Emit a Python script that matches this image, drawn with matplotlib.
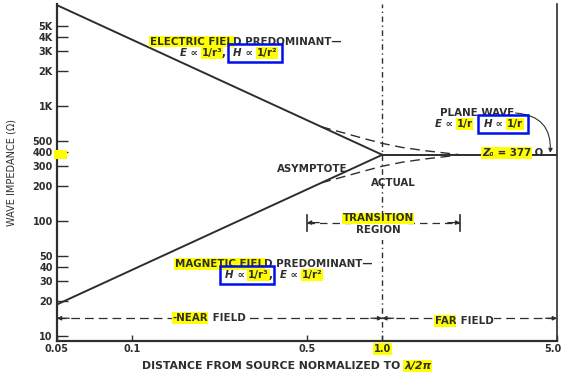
import matplotlib.pyplot as plt
from matplotlib.patches import Rectangle
from matplotlib.transforms import (Bbox, IdentityTransform, ScaledTranslation,
                                   blended_transform_factory)

plt.rcParams['font.family'] = ['DejaVu Sans']
plt.rcParams['font.weight'] = 'bold'

## DATA: wave impedance (ohms) vs distance normalised to lambda/2pi ##
z0 = 377

r_near = [0.05, 1.0]
z_efield = [7540, 377]      # E ~ 1/r^3, H ~ 1/r^2
z_hfield = [18.85, 377]     # H ~ 1/r^3, E ~ 1/r^2
r_far = [1.0, 5.0]
z_plane = [377, 377]

r_actual = [0.57, 0.7, 0.85, 1.0, 1.2, 1.5, 1.8, 2.05]
z_actual_e = [661, 585, 520, 474, 437, 408, 390, 377]
z_actual_h = [215, 243, 273, 300, 325, 348, 364, 377]

y_ticks = [10, 20, 30, 40, 50, 100, 200, 300, 400, 500, 1000, 2000, 3000, 4000, 5000]
y_labels = ['10', '20', '30', '40', '50', '100', '200', '300', '400', '500',
            '1K', '2K', '3K', '4K', '5K']
x_ticks = [0.05, 0.1, 0.5, 1.0, 5.0]
x_labels = ['0.05', '0.1', '0.5', '1.0', '5.0']

r_boundary = 1.0
r_transition = [0.5, 2.05]
z_transition = 97
z_field_arrow = 14.3

INK = '#2e2e2e'
YEL = '#ffff00'
BLUE = '#0010e8'
FS = 7.4

fig = plt.figure(figsize=(5.62, 3.74), dpi=100)
ax = fig.add_axes([0.1014, 0.088, 0.8897, 0.901])
ax.set_xscale('log')
ax.set_yscale('log')
ax.set_xlim(0.05, 5.0)
ax.set_ylim(9.05, 7700)

## curves ##
ax.plot(r_near, z_efield, color=INK, lw=1.4)
ax.plot(r_near, z_hfield, color=INK, lw=1.4)
ax.plot(r_far, z_plane, color=INK, lw=1.4)
ax.plot(r_actual, z_actual_e, color=INK, lw=1.0, linestyle=(0, (7, 4)))
ax.plot(r_actual, z_actual_h, color=INK, lw=1.0, linestyle=(0, (7, 4)))
ax.axvline(r_boundary, color=INK, lw=1.0, linestyle=(0, (4, 2.5, 1, 2.5)))

## axes styling ##
ax.spines['top'].set_visible(False)
for side in ['left', 'bottom']:
    ax.spines[side].set_linewidth(1.6)
ax.spines['right'].set_linewidth(1.2)
for s in ax.spines.values():
    s.set_color(INK)

ax.set_xticks(x_ticks, x_labels)
ax.set_yticks(y_ticks, y_labels)
ax.minorticks_off()
ax.tick_params(axis='y', direction='in', length=8, width=1, pad=3,
               labelsize=7, colors=INK)
ax.tick_params(axis='x', direction='in', length=4, width=1, pad=2,
               labelsize=7, colors=INK)
xlabels = ax.get_xticklabels()
xlabels[3].set_bbox(dict(boxstyle='square,pad=0.1', fc=YEL, ec='none'))
xlabels[-1].set_transform(xlabels[-1].get_transform()
                          + ScaledTranslation(-4 / 100, 0, fig.dpi_scale_trans))

ax.set_ylabel('WAVE IMPEDANCE (Ω)', fontsize=7, color=INK)
ax.yaxis.set_label_coords(-0.08, 0.5)

# yellow mark on the axis at Z0
bt = blended_transform_factory(ax.transAxes, ax.transData)
ax.add_patch(Rectangle((-0.006, 345), 0.026, 412 - 345, transform=bt,
                       fc=YEL, ec='none', zorder=5, clip_on=False))


def chain(x, y, pieces, size=FS, bg=None):
    """Place text pieces side by side; pieces are (text, highlight, italic)."""
    arts = []
    for i, (s, hl, it) in enumerate(pieces):
        kw = dict(fontsize=size, color=INK, va='center', ha='left',
                  fontstyle='italic' if it else 'normal', annotation_clip=False)
        if hl:
            kw['bbox'] = dict(boxstyle='square,pad=0.08', fc=YEL, ec='none')
        elif bg:
            kw['bbox'] = dict(boxstyle='square,pad=0.08', fc=bg, ec='none')
        if i == 0:
            t = ax.annotate(s, xy=(x, y), xycoords='axes fraction', **kw)
        else:
            t = ax.annotate(s, xy=(1, 0.5), xycoords=arts[-1], **kw)
        arts.append(t)
    return arts


## labels ##
chain(0.186, 0.889, [('ELECTRIC FIEL', True, False), ('D PREDOMINANT—', False, False)])
e_line = chain(0.246, 0.855, [('E', False, True), (' ∝ ', False, False),
                              ('1/r³', True, False), (',  ', False, False),
                              ('H', False, True), (' ∝ ', False, False),
                              ('1/r²', True, False)])

chain(0.236, 0.228, [('MAGNETIC FIEL', True, False), ('D PREDOMINANT—', False, False)])
h_line = chain(0.336, 0.196, [('H', False, True), (' ∝ ', False, False),
                              ('1/r³', True, False), (',  ', False, False),
                              ('E', False, True), (' ∝ ', False, False),
                              ('1/r²', True, False)])

plane = chain(0.766, 0.677, [('PLANE WAVE', False, False)])
p_line = chain(0.756, 0.644, [('E', False, True), (' ∝ ', False, False),
                              ('1/r', True, False), ('   ', False, False),
                              ('H', False, True), (' ∝ ', False, False),
                              ('1/r', True, False)])
chain(0.85, 0.558, [('Z₀', True, True), (' = 377', True, False), (' Ω', False, False)])

ax.annotate('', xy=(4.7, z0 * 1.04), xycoords='data',
            xytext=(1.0, 0.5), textcoords=plane[-1],
            arrowprops=dict(arrowstyle='-|>', color=INK, lw=0.8,
                            mutation_scale=6, shrinkA=1, shrinkB=0,
                            connectionstyle='arc3,rad=-0.5'))

ax.text(0.44, 0.510, 'ASYMPTOTE', transform=ax.transAxes, fontsize=FS,
        color=INK, va='center', ha='left')
ax.text(0.628, 0.469, 'ACTUAL', transform=ax.transAxes, fontsize=FS,
        color=INK, va='center', ha='left')

## transition region ##
ax.plot(r_transition, [z_transition] * 2, color=INK, lw=0.9, linestyle=(0, (6, 4)))
for xe, xi in [(r_transition[0], 0.56), (r_transition[1], 1.83)]:
    ax.annotate('', xy=(xe, z_transition), xytext=(xi, z_transition),
                arrowprops=dict(arrowstyle='-|>', color=INK, lw=0.9,
                                mutation_scale=6, shrinkA=0, shrinkB=0))
    ax.plot([xe, xe], [82, 114], color=INK, lw=1.2)
ax.text(0.642, 0.330, 'REGION', transform=ax.transAxes, fontsize=FS,
        color=INK, ha='center', va='center', zorder=4,
        bbox=dict(boxstyle='square,pad=0.45', fc='white', ec='none'))
ax.text(0.642, 0.364, 'TRANSITION', transform=ax.transAxes, fontsize=FS,
        color=INK, ha='center', va='center', zorder=5,
        bbox=dict(boxstyle='square,pad=0.08', fc=YEL, ec='none'))

## near / far field arrows ##
ax.plot([r_near[0], r_boundary], [z_field_arrow] * 2, color=INK, lw=0.9,
        linestyle=(0, (7, 4)))
ax.plot([r_boundary, r_far[1]], [z_field_arrow] * 2, color=INK, lw=0.9,
        linestyle=(0, (7, 4)))
for xe, xi in [(r_near[0], 0.056), (r_boundary, 0.9), (r_boundary, 1.11), (r_far[1], 4.5)]:
    ax.annotate('', xy=(xe, z_field_arrow), xytext=(xi, z_field_arrow),
                arrowprops=dict(arrowstyle='-|>', color=INK, lw=0.9,
                                mutation_scale=6, shrinkA=0, shrinkB=0))
chain(0.232, 0.068, [('-NEAR', True, False), (' FIELD', False, False)], bg='white')
chain(0.756, 0.059, [('FAR', True, False), (' FIELD', False, False)], bg='white')

## x label ##
chain(0.17, -0.074, [('DISTANCE FROM SOURCE NORMALIZED TO ', False, False),
                     ('λ/2π', True, True)], size=7.8)

## blue boxes round the H-field terms ##
fig.canvas.draw()
for group in [e_line[4:], h_line[:3], p_line[4:]]:
    bb = Bbox.union([t.get_window_extent() for t in group])
    fig.add_artist(Rectangle((bb.x0 - 5, bb.y0 - 4), bb.width + 10, bb.height + 8,
                             transform=IdentityTransform(), fill=False,
                             ec=BLUE, lw=1.8))

fig.savefig('out.png', dpi=100)
